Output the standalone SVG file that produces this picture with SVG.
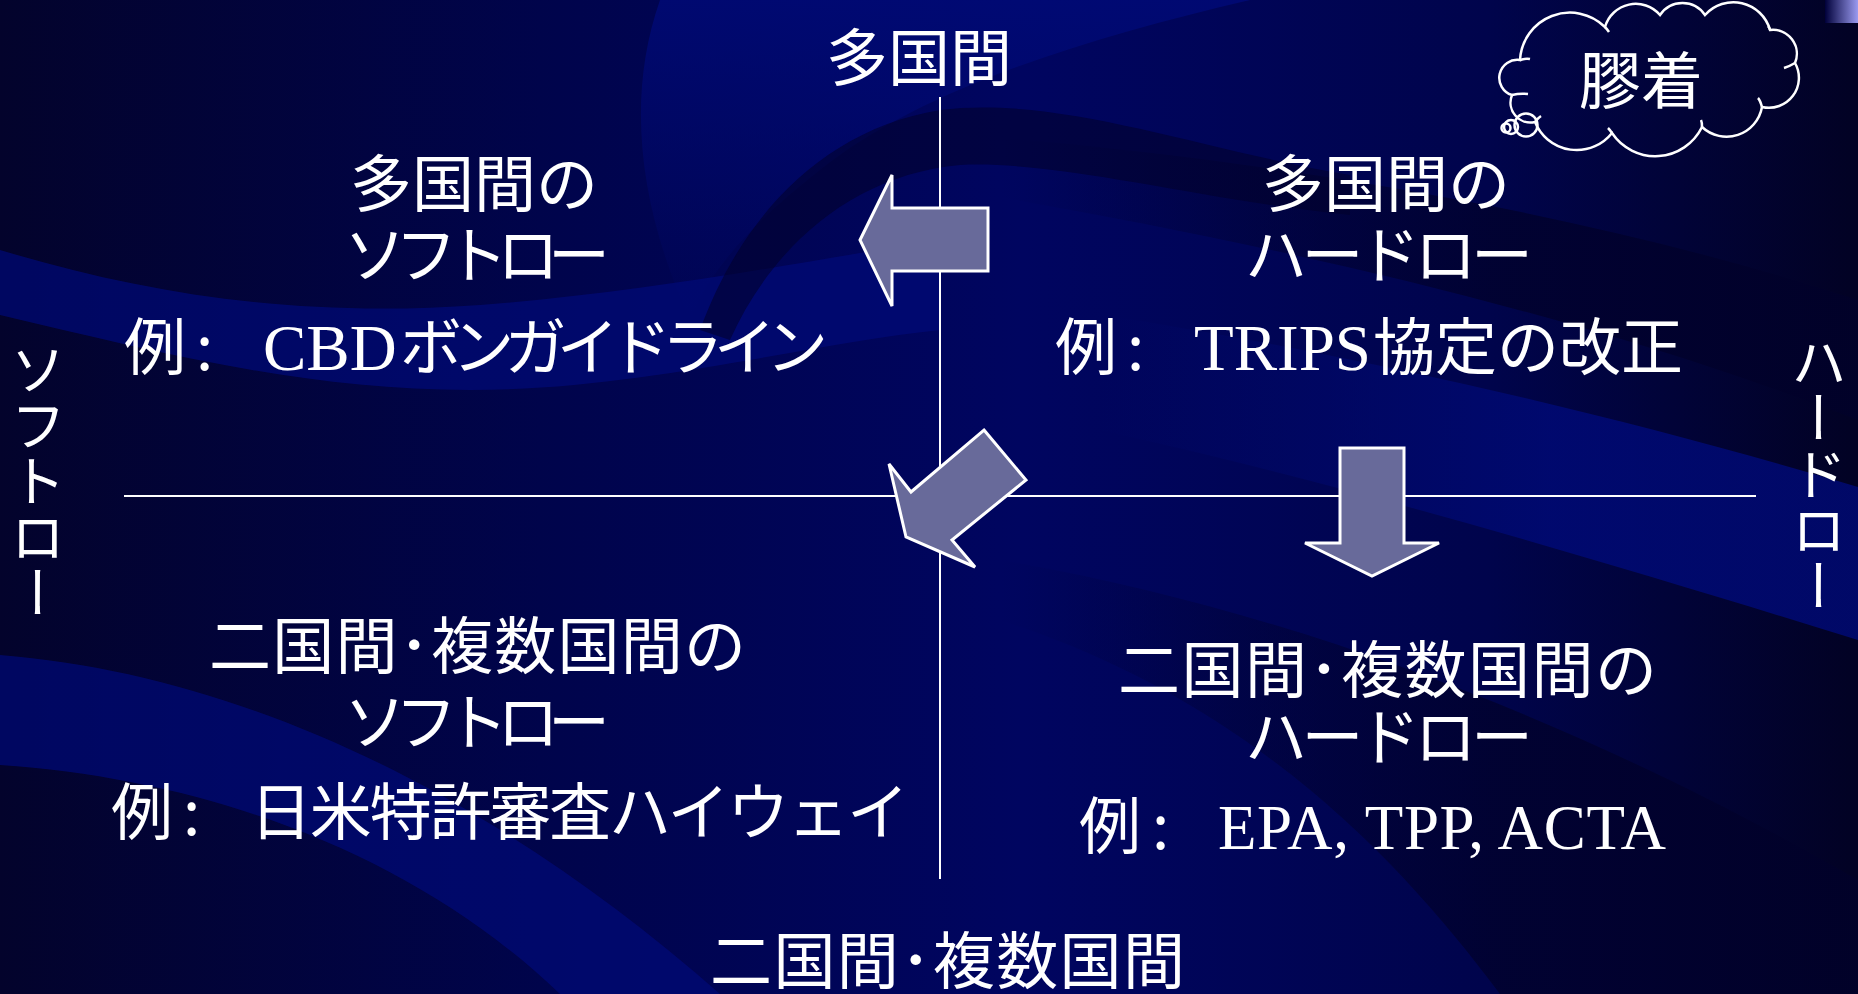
<svg xmlns="http://www.w3.org/2000/svg" width="1858" height="994" viewBox="0 0 1858 994">
<defs>
<linearGradient id="bg" x1="0" y1="0" x2="1" y2="0">
<stop offset="0" stop-color="#03032c"/>
<stop offset="0.3" stop-color="#00044c"/>
<stop offset="0.55" stop-color="#000560"/>
<stop offset="0.8" stop-color="#00044c"/>
<stop offset="1" stop-color="#020224"/>
</linearGradient>
<linearGradient id="corner" x1="0" y1="0" x2="1" y2="0">
<stop offset="0" stop-color="#00003a"/>
<stop offset="1" stop-color="#9a9af0"/>
</linearGradient>
<linearGradient id="fadeR" gradientUnits="userSpaceOnUse" x1="1000" y1="0" x2="1500" y2="0">
<stop offset="0" stop-color="#01012a" stop-opacity="0"/>
<stop offset="1" stop-color="#01012a" stop-opacity="0.75"/>
</linearGradient>
<linearGradient id="fadeB" gradientUnits="userSpaceOnUse" x1="1100" y1="0" x2="1550" y2="0">
<stop offset="0" stop-color="#000a78" stop-opacity="0"/>
<stop offset="1" stop-color="#000a78" stop-opacity="0.8"/>
</linearGradient>
<linearGradient id="fadeT" gradientUnits="userSpaceOnUse" x1="0" y1="0" x2="0" y2="320">
<stop offset="0" stop-color="#000a78" stop-opacity="0.8"/>
<stop offset="1" stop-color="#000a78" stop-opacity="0"/>
</linearGradient>
<style>
.t{font-family:"Noto Sans CJK JP","Noto Sans CJK SC",sans-serif;font-size:62px;fill:#ffffff;}
.l{font-family:"Liberation Serif","Times New Roman",serif;font-size:65px;fill:#ffffff;}
.v{font-family:"Noto Sans CJK JP","Noto Sans CJK SC",sans-serif;font-size:56px;fill:#ffffff;writing-mode:vertical-rl;}
.ax{stroke:#ffffff;stroke-width:2;fill:none;}
.arr{fill:#686a9a;stroke:#ffffff;stroke-width:3;stroke-linejoin:miter;}
.cl{fill:none;stroke:#ffffff;stroke-width:2.5;}
.band{fill:#000a78;opacity:0.7;}
.dark{fill:#01012a;opacity:0.55;}
</style>
</defs>
<g id="background">
<rect x="0" y="0" width="1858" height="994" fill="url(#bg)"/>
<path class="band" d="M0,250 C150,295 300,318 480,305 C650,292 800,262 940,240 L940,330 C800,345 640,390 470,390 C300,390 150,350 0,315 Z"/>
<path class="band" d="M0,655 C250,675 500,800 720,994 L560,994 C420,860 220,780 0,765 Z"/>
<path d="M660,0 L1250,0 C1080,40 920,90 820,170 C750,225 710,270 690,320 C640,210 625,100 660,0 Z" fill="url(#fadeT)"/>
<path class="dark" d="M700,330 C740,220 820,130 940,110 C1060,95 1200,150 1350,175 L1350,215 C1200,200 1060,160 960,165 C850,175 770,250 730,340 Z"/>
<path d="M900,180 C1200,230 1550,300 1858,420 L1858,300 C1550,200 1200,150 900,130 Z" fill="url(#fadeR)"/>
<path d="M1000,300 C1300,340 1600,410 1858,487 L1858,640 C1600,560 1300,470 1050,420 Z" fill="url(#fadeB)"/>
<path d="M1000,560 C1350,620 1650,760 1858,880 L1858,994 L1500,994 C1400,860 1250,700 1000,620 Z" fill="url(#fadeR)"/>
<rect x="1825" y="0" width="33" height="23" fill="url(#corner)"/>
</g>
<g id="axes">
<line class="ax" x1="940" y1="97" x2="940" y2="879"/>
<line class="ax" x1="124" y1="496" x2="1756" y2="496"/>
</g>
<g id="connectors">
<polygon class="arr" points="860,240 892,175 892,208 988,208 988,271 892,271 892,306"/>
<polygon class="arr" points="984,430 1026,480 952,540 975,567 906,537 889,464 911,492"/>
<polygon class="arr" points="1340,448 1404,448 1404,543 1439,543 1372,576 1305,543 1340,543"/>
</g>
<g id="axis-labels">
<text class="t" x="826" y="81">多国間</text>
<text class="t" x="710" y="984" textLength="475">二国間･複数国間</text>
<text class="v" x="38" y="341">ソフトロー</text>
<text class="v" x="1819" y="334">ハードロー</text>
</g>
<g id="q-multilateral-soft">
<text class="t" x="350" y="207">多国間の</text>
<text class="t" x="344" y="278" textLength="266">ソフトロー</text>
<text class="t" x="124" y="370">例<tspan x="196">:</tspan></text>
<text class="l" x="263" y="370">CBD</text>
<text class="t" x="400" y="370" textLength="428">ボンガイドライン</text>
</g>
<g id="q-multilateral-hard">
<text class="t" x="1262" y="207">多国間の</text>
<text class="t" x="1245" y="278" textLength="288">ハードロー</text>
<text class="t" x="1055" y="370">例<tspan x="1127">:</tspan></text>
<text class="l" x="1194" y="370">TRIPS</text>
<text class="t" x="1373" y="370">協定の改正</text>
</g>
<g id="q-bilateral-soft">
<text class="t" x="209" y="669" textLength="537">二国間･複数国間の</text>
<text class="t" x="344" y="745" textLength="266">ソフトロー</text>
<text class="t" x="111" y="835">例<tspan x="183">:</tspan></text>
<text class="t" x="250" y="835" textLength="659">日米特許審査ハイウェイ</text>
</g>
<g id="q-bilateral-hard">
<text class="t" x="1118" y="693" textLength="539">二国間･複数国間の</text>
<text class="t" x="1245" y="760" textLength="288">ハードロー</text>
<text class="t" x="1079" y="849">例<tspan x="1152">:</tspan></text>
<text class="l" x="1218" y="849" style="font-size:63px" textLength="448">EPA, TPP, ACTA</text>
</g>
<g id="cloud">
<path class="cl" d="M1512,95 A18,18 0 0 1 1520,60 A50,50 0 0 1 1605,27 A32,32 0 0 1 1660,15 A27,27 0 0 1 1705,15 A38,38 0 0 1 1770,30 A24,24 0 0 1 1795,63 A30,30 0 0 1 1762,107 A36,36 0 0 1 1702,127 A52,52 0 0 1 1612,133 A45,45 0 0 1 1535,122 A20,20 0 0 1 1512,95 Z"/>
<path class="cl" d="M1520,60 Q1526,58 1530,59 M1605,27 Q1607,29 1609,32 M1770,30 Q1770,28 1768,26 M1795,63 Q1790,66 1784,68 M1762,107 Q1760,100 1758,98 M1702,127 Q1702,122 1701,120 M1612,133 Q1610,130 1608,128 M1535,122 Q1538,118 1541,116 M1512,95 Q1520,93 1528,94"/>
<circle class="cl" cx="1526" cy="125" r="11.5"/>
<circle class="cl" cx="1511" cy="127" r="7"/>
<circle class="cl" cx="1506" cy="128" r="4.5"/>
<text class="t" x="1579" y="104">膠着</text>
</g>
</svg>
